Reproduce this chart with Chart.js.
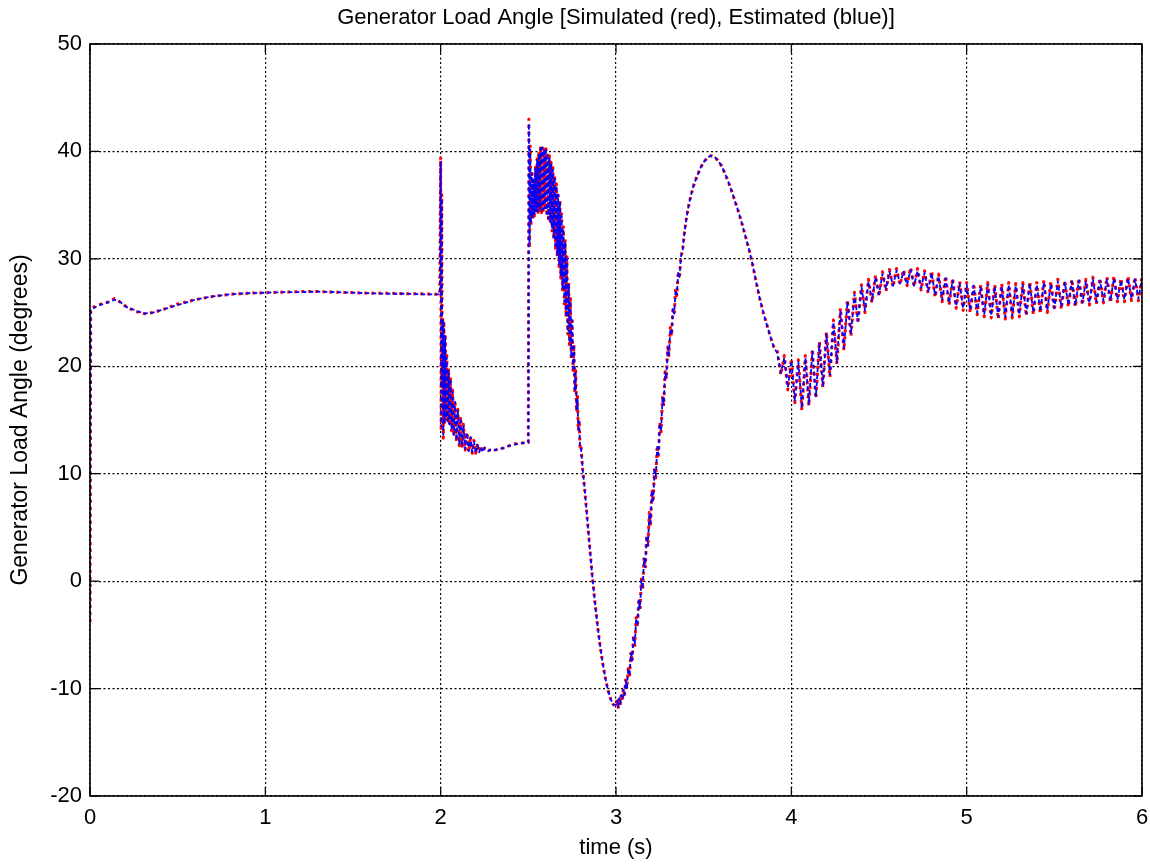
<!DOCTYPE html>
<html>
<head>
<meta charset="utf-8">
<title>Generator Load Angle</title>
<script src="https://cdn.jsdelivr.net/npm/chart.js@4/dist/chart.umd.min.js"></script>
<style>
  html, body { margin: 0; padding: 0; background: #fff; }
  #plot { display: block; }
</style>
</head>
<body>
<canvas id="plot" width="1150" height="865"></canvas>
<script>
// pre-fault steady state, 0 .. 2 s
const settleTime = [0, 0.004, 0.02, 0.05, 0.08, 0.11, 0.14, 0.17, 0.21, 0.26,
    0.31, 0.36, 0.42, 0.5, 0.6, 0.7, 0.8, 0.9, 1.0, 1.1,
    1.2, 1.3, 1.4, 1.5, 1.6, 1.7, 1.8, 1.9, 1.995];
const settleSim = [-3.8, 25.2, 25.5, 25.7, 25.9, 26.0, 26.3, 26.0, 25.5, 25.1,
    24.9, 25.0, 25.3, 25.8, 26.2, 26.5, 26.7, 26.8, 26.85, 26.9,
    26.95, 26.95, 26.9, 26.85, 26.8, 26.8, 26.75, 26.75, 26.7];
const settleEst = [-3.6, 25.3, 25.4, 25.7, 25.8, 26.0, 26.2, 26.0, 25.5, 25.2,
    24.9, 25.0, 25.3, 25.7, 26.2, 26.5, 26.7, 26.8, 26.85, 26.9,
    26.9, 26.95, 26.9, 26.85, 26.8, 26.75, 26.75, 26.7, 26.7];

// fault on, 2 .. 2.5 s
const faultTime = [2.0, 2.003, 2.006, 2.009, 2.012, 2.015, 2.018, 2.022, 2.026, 2.03,
    2.035, 2.04, 2.045, 2.05, 2.056, 2.062, 2.068, 2.075, 2.082, 2.09,
    2.098, 2.106, 2.114, 2.122, 2.13, 2.14, 2.15, 2.16, 2.17, 2.18,
    2.19, 2.2, 2.21, 2.22, 2.23, 2.24, 2.25, 2.27, 2.29, 2.31,
    2.33, 2.36, 2.39, 2.42, 2.45, 2.48, 2.498];
const faultSim = [39.5, 14.0, 36.0, 18.0, 24.5, 13.3, 24.2, 14.5, 23.0, 15.0,
    21.0, 14.8, 19.8, 14.5, 19.0, 14.0, 17.8, 13.5, 16.8, 13.0,
    16.0, 12.6, 15.3, 12.4, 14.6, 12.2, 13.9, 12.0, 13.5, 11.9,
    13.1, 11.9, 12.8, 12.0, 12.6, 12.0, 12.4, 12.1, 12.3, 12.2,
    12.3, 12.4, 12.6, 12.8, 12.8, 12.9, 12.9];
const faultEst = [39.0, 14.4, 35.6, 18.4, 24.2, 13.6, 24.0, 14.7, 22.8, 15.2,
    20.8, 14.9, 19.6, 14.6, 18.8, 14.1, 17.6, 13.6, 16.7, 13.1,
    15.9, 12.7, 15.2, 12.5, 14.5, 12.3, 13.8, 12.1, 13.4, 12.0,
    13.0, 11.9, 12.7, 12.0, 12.5, 12.0, 12.4, 12.1, 12.3, 12.2,
    12.3, 12.4, 12.6, 12.7, 12.8, 12.9, 12.9];

// fault cleared, first swing, 2.5 .. 3.9 s
const swingTime = [2.5, 2.503, 2.507, 2.511, 2.515, 2.52, 2.525, 2.53, 2.535, 2.54,
    2.545, 2.55, 2.555, 2.56, 2.565, 2.57, 2.575, 2.58, 2.585, 2.59,
    2.595, 2.6, 2.605, 2.61, 2.615, 2.62, 2.625, 2.63, 2.635, 2.64,
    2.645, 2.65, 2.655, 2.66, 2.665, 2.67, 2.675, 2.68, 2.685, 2.69,
    2.695, 2.7, 2.705, 2.71, 2.715, 2.72, 2.725, 2.73, 2.735, 2.74,
    2.745, 2.75, 2.755, 2.76, 2.765, 2.77, 2.775, 2.78, 2.785, 2.79,
    2.795, 2.8, 2.81, 2.82, 2.835, 2.85, 2.865, 2.88, 2.895, 2.91,
    2.925, 2.94, 2.955, 2.97, 2.985, 3.0, 3.007, 3.012, 3.018, 3.024,
    3.03, 3.036, 3.042, 3.048, 3.055, 3.062, 3.07, 3.077, 3.085, 3.092,
    3.1, 3.107, 3.115, 3.122, 3.13, 3.137, 3.145, 3.152, 3.16, 3.167,
    3.175, 3.182, 3.19, 3.197, 3.205, 3.212, 3.22, 3.227, 3.235, 3.242,
    3.25, 3.257, 3.265, 3.272, 3.28, 3.287, 3.295, 3.302, 3.31, 3.317,
    3.325, 3.332, 3.34, 3.347, 3.355, 3.362, 3.37, 3.38, 3.39, 3.4,
    3.41, 3.42, 3.44, 3.46, 3.48, 3.5, 3.52, 3.54, 3.56, 3.58,
    3.6, 3.62, 3.64, 3.66, 3.68, 3.7, 3.72, 3.74, 3.76, 3.78,
    3.8, 3.82, 3.84, 3.86, 3.88, 3.9];
const swingSim = [12.9, 43.0, 31.0, 40.5, 33.0, 38.2, 33.6, 37.5, 34.0, 38.5,
    34.3, 39.3, 34.2, 40.0, 34.5, 40.5, 34.3, 40.6, 34.5, 40.3,
    34.6, 40.5, 34.0, 39.9, 33.5, 39.6, 33.3, 39.0, 32.6, 38.5,
    31.8, 37.8, 30.8, 37.0, 30.2, 36.2, 29.3, 35.5, 28.2, 34.2,
    27.1, 33.0, 25.8, 31.8, 24.6, 30.2, 23.0, 27.8, 22.0, 26.3,
    20.6, 24.5, 19.6, 22.0, 17.5, 19.6, 15.8, 17.2, 14.0, 15.0,
    12.4, 12.6, 10.4, 8.8, 6.0, 3.2, 0.4, -2.0, -4.2, -6.1,
    -7.7, -9.1, -10.2, -11.0, -11.5, -11.6, -11.0, -11.9, -10.8, -11.6,
    -10.5, -11.2, -10.0, -10.8, -9.2, -10.0, -8.0, -8.9, -6.6, -7.5,
    -5.0, -6.0, -3.4, -4.3, -1.7, -2.6, 0.2, -0.8, 2.2, 1.2,
    4.3, 3.2, 6.4, 5.3, 8.5, 7.4, 10.6, 9.6, 12.6, 11.7,
    14.8, 13.9, 17.1, 16.3, 19.5, 18.8, 21.8, 21.0, 23.6, 22.8,
    25.5, 24.8, 27.2, 26.6, 28.8, 28.2, 30.2, 30.8, 32.4, 33.6,
    34.6, 35.4, 36.7, 37.6, 38.4, 39.0, 39.4, 39.6, 39.5, 39.2,
    38.7, 38.0, 37.2, 36.3, 35.3, 34.3, 33.2, 32.0, 30.8, 29.4,
    27.8, 26.3, 25.0, 23.9, 22.8, 21.8];
const swingEst = [12.9, 42.6, 31.4, 40.2, 33.3, 38.0, 33.8, 37.4, 34.2, 38.4,
    34.4, 39.2, 34.4, 39.8, 34.6, 40.3, 34.5, 40.4, 34.6, 40.2,
    34.7, 40.3, 34.2, 39.8, 33.7, 39.4, 33.4, 38.9, 32.8, 38.3,
    32.0, 37.6, 31.0, 36.8, 30.4, 36.0, 29.5, 35.3, 28.4, 34.0,
    27.3, 32.8, 26.0, 31.6, 24.8, 30.0, 23.2, 27.6, 22.2, 26.1,
    20.8, 24.3, 19.8, 21.8, 17.7, 19.4, 16.0, 17.0, 14.2, 14.8,
    12.5, 12.5, 10.4, 8.8, 6.0, 3.2, 0.4, -2.0, -4.2, -6.1,
    -7.7, -9.1, -10.2, -11.0, -11.5, -11.5, -11.1, -11.7, -10.9, -11.4,
    -10.6, -11.0, -10.1, -10.6, -9.3, -9.9, -8.1, -8.8, -6.7, -7.4,
    -5.1, -5.9, -3.5, -4.2, -1.8, -2.5, 0.1, -0.7, 2.1, 1.3,
    4.2, 3.3, 6.3, 5.4, 8.4, 7.5, 10.5, 9.7, 12.5, 11.8,
    14.7, 14.0, 17.0, 16.4, 19.4, 18.9, 21.7, 21.1, 23.5, 22.9,
    25.4, 24.9, 27.1, 26.7, 28.7, 28.3, 30.2, 30.8, 32.4, 33.6,
    34.6, 35.4, 36.7, 37.6, 38.4, 39.0, 39.4, 39.6, 39.5, 39.2,
    38.7, 38.0, 37.2, 36.3, 35.3, 34.3, 33.2, 32.0, 30.8, 29.4,
    27.8, 26.3, 25.0, 23.9, 22.8, 21.8];

// damped oscillation, sampled every 20 ms from 3.92 s to 6 s
const dampStart = 3.92;
const dampStep = 0.02;
const dampSim = [21.4, 19.2, 21.0, 17.8, 20.7, 16.6, 20.6, 15.9, 21.0, 16.3,
    21.6, 17.0, 22.3, 18.0, 23.2, 19.0, 24.3, 20.2, 25.4, 21.5,
    26.2, 22.8, 26.9, 24.0, 27.6, 25.0, 28.1, 25.9, 28.5, 26.5,
    28.8, 27.0, 29.0, 27.4, 29.1, 27.6, 29.0, 27.5, 29.2, 27.4,
    29.1, 27.1, 28.9, 26.8, 28.9, 26.4, 28.6, 26.0, 28.4, 25.7,
    28.2, 25.4, 27.9, 25.2, 27.8, 25.0, 27.7, 24.8, 27.6, 24.6,
    27.8, 24.5, 27.6, 24.4, 27.7, 24.4, 27.8, 24.5, 27.7, 24.6,
    27.8, 24.7, 27.9, 24.8, 27.8, 24.9, 28.0, 25.0, 27.9, 25.2,
    28.1, 25.3, 28.0, 25.5, 28.1, 25.5, 28.2, 25.7, 28.1, 25.7,
    28.3, 25.8, 28.2, 25.9, 28.3, 25.9, 28.4, 26.0, 28.2, 26.0,
    28.4, 26.1, 28.3, 26.1, 28.4];
const dampEst = [21.2, 19.4, 20.8, 18.0, 20.5, 16.8, 20.4, 16.1, 20.8, 16.5,
    21.4, 17.2, 22.1, 18.2, 23.0, 19.2, 24.1, 20.4, 25.2, 21.7,
    26.0, 23.0, 26.7, 24.2, 27.4, 25.2, 27.9, 26.1, 28.3, 26.7,
    28.6, 27.2, 28.8, 27.5, 28.9, 27.7, 28.8, 27.6, 29.0, 27.5,
    28.9, 27.3, 28.7, 27.0, 28.7, 26.6, 28.4, 26.2, 28.2, 25.9,
    28.0, 25.6, 27.7, 25.4, 27.6, 25.2, 27.5, 25.0, 27.4, 24.8,
    27.6, 24.7, 27.4, 24.6, 27.5, 24.6, 27.6, 24.7, 27.5, 24.8,
    27.6, 24.9, 27.7, 25.0, 27.6, 25.1, 27.8, 25.2, 27.7, 25.4,
    27.9, 25.5, 27.8, 25.7, 27.9, 25.7, 28.0, 25.9, 27.9, 25.9,
    28.1, 26.0, 28.0, 26.1, 28.1, 26.1, 28.2, 26.2, 28.0, 26.2,
    28.2, 26.3, 28.1, 26.3, 28.2];

const xTicks = [0, 1, 2, 3, 4, 5, 6];
const yTicks = [-20, -10, 0, 10, 20, 30, 40, 50];

function toPoints(times, values) {
    return times.map((t, i) => ({ x: t, y: values[i] }));
}

function sampled(values) {
    return values.map((v, i) => ({ x: +(dampStart + i * dampStep).toFixed(3), y: v }));
}

const simulated = [].concat(
    toPoints(settleTime, settleSim),
    toPoints(faultTime, faultSim),
    toPoints(swingTime, swingSim),
    sampled(dampSim)
);
const estimated = [].concat(
    toPoints(settleTime, settleEst),
    toPoints(faultTime, faultEst),
    toPoints(swingTime, swingEst),
    sampled(dampEst)
);

Chart.defaults.font.family = "'Liberation Sans', Arial, sans-serif";
Chart.defaults.color = "#000";

// box round the axes with short inward tick marks on all four sides
const axesBox = {
    id: "axesBox",
    afterDraw(chart) {
        const { ctx, chartArea: a, scales } = chart;
        const len = 9;
        ctx.save();
        ctx.strokeStyle = "#000";
        ctx.lineWidth = 1.6;
        ctx.setLineDash([]);
        ctx.strokeRect(a.left, a.top, a.right - a.left, a.bottom - a.top);
        ctx.beginPath();
        xTicks.forEach((v) => {
            const px = scales.x.getPixelForValue(v);
            ctx.moveTo(px, a.bottom);
            ctx.lineTo(px, a.bottom - len);
            ctx.moveTo(px, a.top);
            ctx.lineTo(px, a.top + len);
        });
        yTicks.forEach((v) => {
            const py = scales.y.getPixelForValue(v);
            ctx.moveTo(a.left, py);
            ctx.lineTo(a.left + len, py);
            ctx.moveTo(a.right, py);
            ctx.lineTo(a.right - len, py);
        });
        ctx.lineWidth = 1.2;
        ctx.stroke();
        ctx.restore();
    },
};

const chart = new Chart(document.getElementById("plot"), {
    type: "line",
    data: {
        datasets: [
            {
                label: "Simulated",
                data: simulated,
                borderColor: "rgb(255, 0, 0)",
                borderWidth: 3,
                borderDash: [3, 4],
                borderJoinStyle: "round",
                borderCapStyle: "butt",
                pointRadius: 0,
                tension: 0,
                order: 1,
            },
            {
                label: "Estimated",
                data: estimated,
                borderColor: "rgb(0, 0, 255)",
                borderWidth: 1.8,
                borderDash: [4, 3],
                borderDashOffset: 2,
                borderJoinStyle: "round",
                borderCapStyle: "butt",
                pointRadius: 0,
                tension: 0,
                order: 0,
            },
        ],
    },
    options: {
        responsive: false,
        animation: false,
        layout: { padding: { left: 0, right: 8, top: 0, bottom: 0 } },
        plugins: {
            legend: { display: false },
            tooltip: { enabled: false },
            title: {
                display: true,
                fullSize: false,
                text: "Generator Load Angle [Simulated (red), Estimated (blue)]",
                color: "#000",
                font: { size: 22, weight: "normal" },
                padding: { top: 4.5, bottom: 13.1 },
            },
        },
        scales: {
            x: {
                type: "linear",
                min: 0,
                max: 6,
                afterFit(scale) {
                    scale.height = 69;
                    scale.paddingLeft = 0;
                    scale.paddingRight = 0;
                },
                afterBuildTicks(scale) { scale.ticks = xTicks.map((v) => ({ value: v })); },
                ticks: { font: { size: 22 }, padding: 9, color: "#000" },
                grid: { color: "#000", lineWidth: 1.2, drawTicks: false },
                border: { display: false, dash: [2, 2.5] },
                title: {
                    display: true,
                    text: "time (s)",
                    font: { size: 22 },
                    color: "#000",
                    padding: { top: 0, bottom: 4 },
                },
            },
            y: {
                type: "linear",
                min: -20,
                max: 50,
                afterFit(scale) {
                    scale.width = 90;
                    scale.paddingTop = 0;
                    scale.paddingBottom = 0;
                },
                afterBuildTicks(scale) { scale.ticks = yTicks.map((v) => ({ value: v })); },
                ticks: { font: { size: 22 }, padding: 8, color: "#000" },
                grid: { color: "#000", lineWidth: 1.2, drawTicks: false },
                border: { display: false, dash: [2, 2.5] },
                title: {
                    display: true,
                    text: "Generator Load Angle (degrees)",
                    font: { size: 23 },
                    color: "#000",
                    padding: { top: 7, bottom: 0 },
                },
            },
        },
    },
    plugins: [axesBox],
});
</script>
</body>
</html>
